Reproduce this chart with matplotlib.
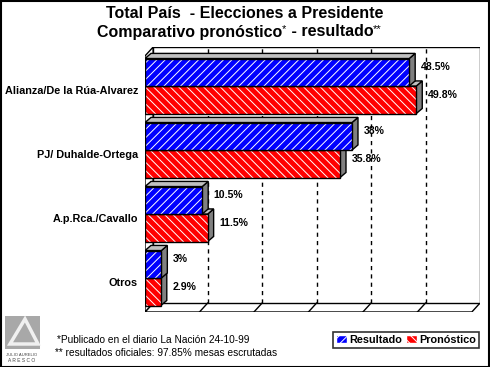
import matplotlib
matplotlib.use('Agg')
import matplotlib.pyplot as plt
from matplotlib.patches import Polygon, Rectangle, Patch

plt.rcParams['font.family'] = ['Liberation Sans', 'DejaVu Sans']
plt.rcParams['hatch.linewidth'] = 0.7

# datos
categorias = ['Alianza/De la Rúa-Alvarez', 'PJ/ Duhalde-Ortega', 'A.p.Rca./Cavallo', 'Otros']
resultado = [48.5, 38, 10.5, 3]
pronostico = [49.8, 35.8, 11.5, 2.9]
etiq_resultado = ['48.5%', '38%', '10.5%', '3%']
etiq_pronostico = ['49.8%', '35.8%', '11.5%', '2.9%']
series = ['Resultado', 'Pronóstico']

AZUL = '#0000ff'
ROJO = '#ff0000'
GRIS_TOP = '#c0c0c0'
GRIS_LADO = '#808080'

XMAX = 60
DXW, DYW = 1.5, 0.14     # profundidad de las paredes
DXB, DYB = 1.1, 0.08     # profundidad de las barras
Y0, Y1 = -0.53, 3.47
H = 0.43

fig = plt.figure(figsize=(4.9, 3.67), dpi=100)
ax = fig.add_axes([145/490, (367-312)/367, (480-145)/490, (312-47)/367])
ax.set_xlim(0, XMAX + DXW)
ax.set_ylim(Y0, Y1 + DYW)
ax.axis('off')

# paredes
k = dict(facecolor='white', edgecolor='black', lw=1, zorder=1)
ax.add_patch(Polygon([(0, Y0), (XMAX, Y0), (XMAX + DXW, Y0 + DYW), (DXW, Y0 + DYW)], **k))
ax.add_patch(Polygon([(0, Y0), (DXW, Y0 + DYW), (DXW, Y1 + DYW), (0, Y1)], **k))
ax.add_patch(Rectangle((DXW, Y0 + DYW), XMAX, Y1 - Y0, **k))
for g in range(10, XMAX, 10):
    ax.plot([g + DXW, g + DXW], [Y0 + DYW, Y1 + DYW], color='black', lw=1,
            ls=(0, (3, 3)), zorder=2)
    ax.plot([g, g + DXW], [Y0, Y0 + DYW], color='black', lw=1, zorder=2)

ypos = list(range(len(categorias)))[::-1]


def barra3d(v, yb, color, hatch):
    yt = yb + H
    ax.add_patch(Polygon([(v, yb), (v + DXB, yb + DYB), (v + DXB, yt + DYB), (v, yt)],
                         facecolor=GRIS_LADO, edgecolor='black', lw=1, zorder=3))
    ax.add_patch(Polygon([(0, yt), (DXB, yt + DYB), (v + DXB, yt + DYB), (v, yt)],
                         facecolor=GRIS_TOP, edgecolor='black', lw=1, zorder=3))
    ax.barh(yb, v, height=H, align='edge', color=color, edgecolor='white',
            hatch=hatch, lw=0, zorder=4)
    ax.barh(yb, v, height=H, align='edge', fill=False, edgecolor='black',
            lw=1, zorder=4)


for y, r, p, er, ep, cat in zip(ypos, resultado, pronostico, etiq_resultado,
                                 etiq_pronostico, categorias):
    barra3d(p, y - H, ROJO, '\\\\\\\\')
    barra3d(r, y, AZUL, '////')
    ax.text(r + DXB + 1.0, y + H / 2 + DYB, er, fontsize=7.6, fontweight='bold',
            va='center', ha='left', zorder=5)
    ax.text(p + DXB + 1.0, y - H / 2 + DYB, ep, fontsize=7.6, fontweight='bold',
            va='center', ha='left', zorder=5)
    ax.text(-1.3, y - 0.07, cat, fontsize=7.8, fontweight='bold', va='center',
            ha='right')

# titulo
fig.text(0.5, 1 - 13/367, 'Total País  - Elecciones a Presidente', fontsize=11.5,
         fontweight='bold', ha='center', va='center')
t1 = fig.text(97/490, 1 - 32/367, 'Comparativo pronóstico', fontsize=11.5,
              fontweight='bold', ha='left', va='center')
s1 = ax.annotate('*', xy=(1, 1), xycoords=t1, fontsize=8, ha='left', va='top',
                 annotation_clip=False)
t2 = ax.annotate(' - resultado', xy=(1, 0), xycoords=(s1, t1), fontsize=11.5,
                 fontweight='bold', ha='left', va='bottom', annotation_clip=False)
ax.annotate('**', xy=(1, 1), xycoords=t2, fontsize=8, ha='left', va='top',
            annotation_clip=False)

# notas
fig.text(57/490, 1 - 340/367, '*Publicado en el diario La Nación 24-10-99',
         fontsize=7.3, ha='left', va='center')
fig.text(55/490, 1 - 353/367, '** resultados oficiales: 97.85% mesas escrutadas',
         fontsize=7.3, ha='left', va='center')

# leyenda
handles = [Patch(facecolor=AZUL, edgecolor='black', hatch='////'),
           Patch(facecolor=ROJO, edgecolor='black', hatch='\\\\\\\\')]
leg = fig.legend(handles, series, loc='center', bbox_to_anchor=(406/490, 1 - 340/367),
                 ncol=2, frameon=True, fancybox=False, edgecolor='black',
                 prop={'size': 7.8, 'weight': 'bold'}, handlelength=1.0,
                 handleheight=0.7, handletextpad=0.2, columnspacing=0.4,
                 borderpad=0.3, borderaxespad=0)
leg.get_frame().set_linewidth(1.2)
for h in leg.legend_handles:
    h.set_edgecolor('white')

# logo
fig.patches.append(Rectangle((5/490, 1 - 349/367), 35/490, 33/367,
                             transform=fig.transFigure, facecolor='#a8a8a8',
                             edgecolor='none'))
fig.patches.append(Polygon([(10/490, 1 - 344/367), (25/490, 1 - 319/367),
                            (38/490, 1 - 344/367)], closed=True,
                           transform=fig.transFigure, facecolor='none',
                           edgecolor='#f0f0f0', lw=2.5))
fig.text(22/490, 1 - 355/367, 'JULIO AURELIO', fontsize=3, ha='center',
         va='center', color='#404040')
fig.text(22/490, 1 - 361/367, 'A R E S C O', fontsize=3.5, ha='center',
         va='center', color='#404040')

# borde
fig.patches.append(Rectangle((0.5/490, 0.5/367), 488/490, 365.5/367,
                             transform=fig.transFigure, fill=False,
                             edgecolor='black', lw=1.5))

fig.savefig('out.png', dpi=100)
